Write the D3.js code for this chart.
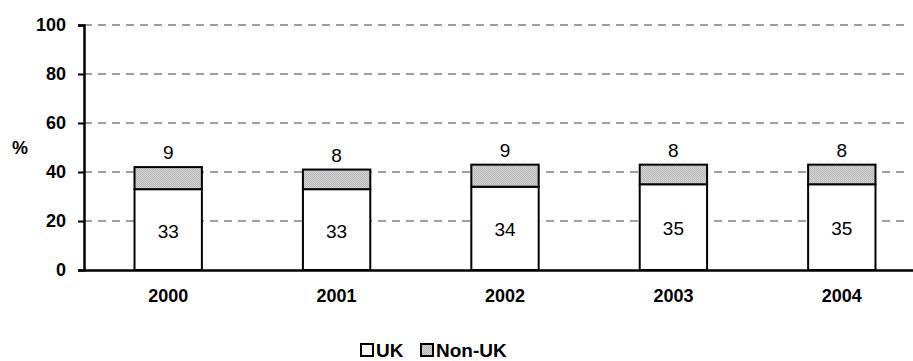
<!DOCTYPE html>
<html>
<head>
<meta charset="utf-8">
<script src="https://cdn.jsdelivr.net/npm/d3@7"></script>
<style>
  html, body { margin: 0; padding: 0; background: #fff; }
  svg { display: block; font-family: Arial, "Liberation Sans", sans-serif; }
</style>
</head>
<body>
<svg id="chart" width="913" height="361"></svg>
<script>
// Share of total, by year (%)
const years = ["2000", "2001", "2002", "2003", "2004"];
const ukValues = [33, 33, 34, 35, 35];
const nonUkValues = [9, 8, 9, 8, 8];
const yTicks = [0, 20, 40, 60, 80, 100];
const seriesNames = ["UK", "Non-UK"];

const svg = d3.select("#chart");
const margin = { left: 84, top: 25, bottom: 91 };
const plotRight = 926;
const height = 361;
const fontStack = "Arial, 'Liberation Sans', sans-serif";

// Textured light-grey fill for the Non-UK segment
const defs = svg.append("defs");
const pat = defs.append("pattern")
  .attr("id", "dots").attr("patternUnits", "userSpaceOnUse")
  .attr("width", 2).attr("height", 2);
pat.append("rect").attr("width", 2).attr("height", 2).attr("fill", "#d4d4d4");
pat.append("rect").attr("width", 1).attr("height", 1).attr("fill", "#b4b4b4");
pat.append("rect").attr("x", 1).attr("y", 1).attr("width", 1).attr("height", 1).attr("fill", "#bcbcbc");

const x = d3.scaleBand().domain(years)
  .range([margin.left, plotRight]).paddingInner(0.6).paddingOuter(0.3);
const y = d3.scaleLinear().domain([0, 100]).range([height - margin.bottom, margin.top]);

// Dashed gridlines
svg.append("g").selectAll("line").data(yTicks.filter(d => d > 0)).join("line")
  .attr("x1", margin.left).attr("x2", 908)
  .attr("y1", d => y(d)).attr("y2", d => y(d))
  .attr("stroke", "#808080").attr("stroke-width", 1.5)
  .attr("stroke-dasharray", "8,6");

// Stacked bars
const stackData = years.map((yr, i) => ({ year: yr, UK: ukValues[i], "Non-UK": nonUkValues[i] }));
const stacked = d3.stack().keys(seriesNames)(stackData);
const fills = { "UK": "#ffffff", "Non-UK": "url(#dots)" };

svg.append("g").selectAll("g").data(stacked).join("g")
  .attr("fill", d => fills[d.key])
  .selectAll("rect").data(d => d).join("rect")
  .attr("x", d => x(d.data.year))
  .attr("width", x.bandwidth())
  .attr("y", d => y(d[1]))
  .attr("height", d => y(d[0]) - y(d[1]))
  .attr("stroke", "#000").attr("stroke-width", 2);

// Value labels: UK inside bar, Non-UK above bar
svg.append("g").selectAll("text").data(stackData).join("text")
  .attr("x", d => x(d.year) + x.bandwidth() / 2)
  .attr("y", d => y(d.UK / 2) + 8)
  .attr("text-anchor", "middle").attr("font-size", 19)
  .text(d => d.UK);
svg.append("g").selectAll("text").data(stackData).join("text")
  .attr("x", d => x(d.year) + x.bandwidth() / 2)
  .attr("y", d => y(d.UK + d["Non-UK"]) - 8)
  .attr("text-anchor", "middle").attr("font-size", 19)
  .text(d => d["Non-UK"]);

// Y axis
const yAxis = svg.append("g").attr("transform", `translate(${margin.left},0)`)
  .call(d3.axisLeft(y).tickValues(yTicks).tickSize(6).tickPadding(12));
yAxis.select(".domain").attr("stroke", "#000").attr("stroke-width", 2.5);
yAxis.selectAll(".tick line").attr("stroke", "#000").attr("stroke-width", 2);
yAxis.selectAll(".tick text").attr("font-size", 18).attr("font-weight", "bold")
  .attr("fill", "#000").attr("font-family", fontStack);

// X axis
const xAxis = svg.append("g").attr("transform", `translate(0,${y(0)})`)
  .call(d3.axisBottom(x).tickSize(0).tickPadding(19));
xAxis.select(".domain").attr("stroke", "#000").attr("stroke-width", 2.5);
xAxis.selectAll(".tick text").attr("font-size", 18).attr("font-weight", "bold")
  .attr("fill", "#000").attr("font-family", fontStack);

// Y axis title
svg.append("text").attr("x", 20).attr("y", 154)
  .attr("text-anchor", "middle").attr("font-size", 18).attr("font-weight", "bold")
  .text("%");

// Legend
const legend = svg.append("g").attr("transform", "translate(360,342)");
const legendItems = [
  { name: seriesNames[0], fill: fills["UK"], x: 0 },
  { name: seriesNames[1], fill: fills["Non-UK"], x: 60 }
];
const li = legend.selectAll("g").data(legendItems).join("g")
  .attr("transform", d => `translate(${d.x},0)`);
li.append("rect").attr("x", 1).attr("y", 2).attr("width", 12).attr("height", 12)
  .attr("fill", d => d.fill).attr("stroke", "#000").attr("stroke-width", 2);
li.append("text").attr("x", 16).attr("y", 14.5)
  .attr("font-size", 19).attr("font-weight", "bold").text(d => d.name);
</script>
</body>
</html>
